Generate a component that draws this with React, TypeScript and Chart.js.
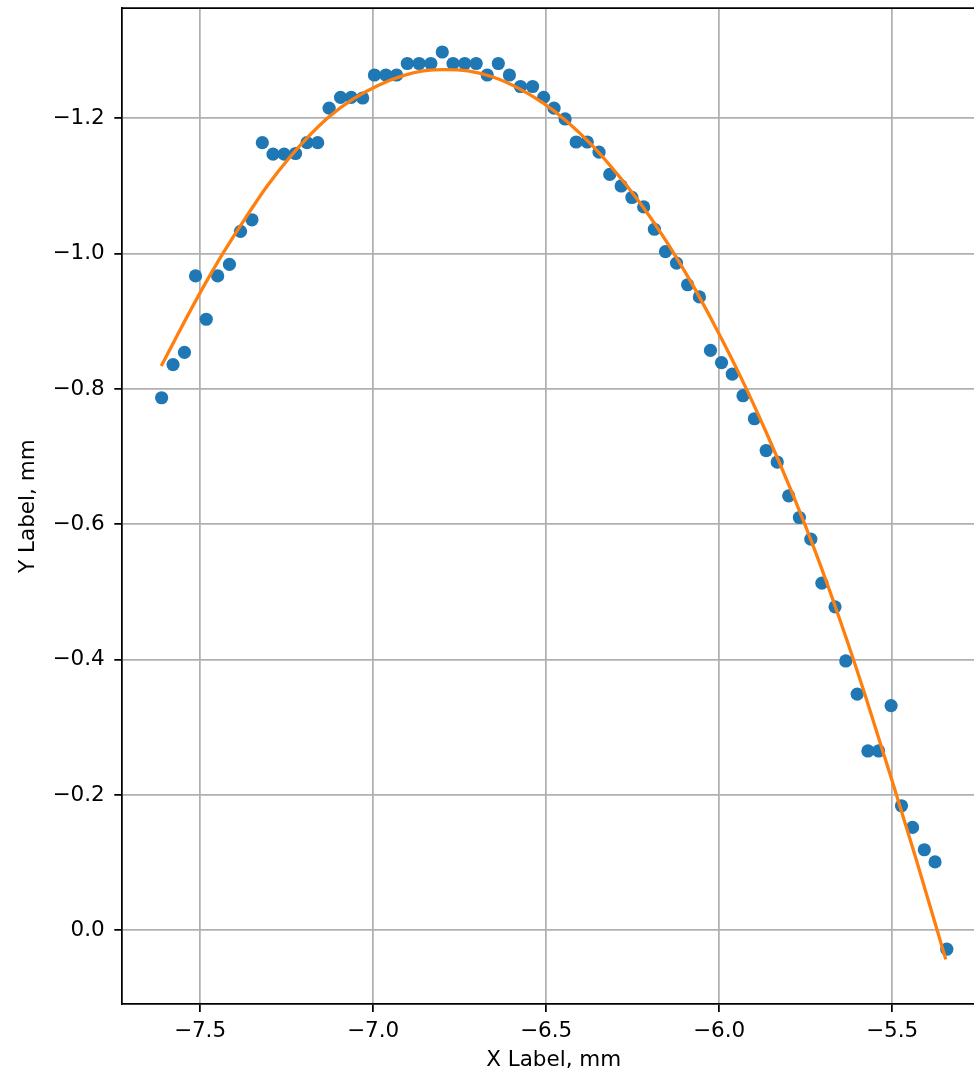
import React, { useEffect, useRef } from "react";
import { Chart, registerables } from "chart.js";

Chart.register(...registerables);

// Measured points (x, y in mm)
const xValues = [
  -7.611, -7.578, -7.545, -7.513, -7.482, -7.449, -7.415, -7.383, -7.35, -7.32,
  -7.289, -7.257, -7.224, -7.191, -7.16, -7.127, -7.094, -7.063, -7.03, -6.996,
  -6.963, -6.932, -6.901, -6.867, -6.833, -6.8, -6.769, -6.735, -6.702, -6.67,
  -6.638, -6.606, -6.574, -6.539, -6.507, -6.477, -6.445, -6.413, -6.381, -6.347,
  -6.316, -6.283, -6.252, -6.218, -6.187, -6.155, -6.123, -6.091, -6.057, -6.025,
  -5.993, -5.962, -5.931, -5.898, -5.864, -5.832, -5.799, -5.768, -5.735, -5.703,
  -5.665, -5.634, -5.601, -5.57, -5.539, -5.503, -5.473, -5.441, -5.407, -5.376,
  -5.342,
];
const yValues = [
  -0.787, -0.836, -0.854, -0.967, -0.903, -0.967, -0.984, -1.033, -1.05, -1.164,
  -1.147, -1.147, -1.148, -1.164, -1.164, -1.215, -1.231, -1.231, -1.23, -1.264,
  -1.264, -1.264, -1.281, -1.281, -1.281, -1.298, -1.281, -1.281, -1.281, -1.264,
  -1.281, -1.264, -1.247, -1.247, -1.231, -1.215, -1.199, -1.165, -1.165, -1.15,
  -1.117, -1.1, -1.083, -1.069, -1.036, -1.003, -0.986, -0.954, -0.936, -0.857,
  -0.839, -0.822, -0.79, -0.756, -0.709, -0.692, -0.642, -0.61, -0.578, -0.513,
  -0.478, -0.398, -0.349, -0.265, -0.265, -0.332, -0.184, -0.152, -0.119, -0.101,
  0.028,
];

// Fitted curve
const fitX = [
  -7.612, -7.559, -7.5, -7.433, -7.367, -7.306, -7.243, -7.185, -7.128, -7.056,
  -6.984, -6.913, -6.855, -6.792, -6.726, -6.654, -6.582, -6.51, -6.439, -6.367,
  -6.295, -6.223, -6.151, -6.079, -6.008, -5.936, -5.864, -5.792, -5.72, -5.649,
  -5.577, -5.505, -5.433, -5.345,
];
const fitY = [
  -0.834, -0.886, -0.942, -1.001, -1.054, -1.1, -1.141, -1.174, -1.202, -1.229,
  -1.249, -1.263, -1.27, -1.272, -1.27, -1.261, -1.245, -1.223, -1.195, -1.16,
  -1.118, -1.071, -1.017, -0.956, -0.889, -0.816, -0.736, -0.65, -0.557, -0.456,
  -0.346, -0.229, -0.109, 0.043,
];

const xTicks = [-7.5, -7.0, -6.5, -6.0, -5.5];
const yTicks = [-1.2, -1.0, -0.8, -0.6, -0.4, -0.2, 0.0];
const xLabel = "X Label, mm";
const yLabel = "Y Label, mm";

const fmt = (v: number) => {
  const s = Math.abs(v).toFixed(1);
  return v < -1e-9 ? "\u2212" + s : s;
};

const topSpine = {
  id: "topSpine",
  afterDatasetsDraw(chart: any) {
    const { ctx, chartArea } = chart;
    ctx.save();
    ctx.strokeStyle = "#000";
    ctx.lineWidth = 1.75;
    ctx.beginPath();
    ctx.moveTo(chartArea.left, chartArea.top);
    ctx.lineTo(chartArea.right + 2, chartArea.top);
    ctx.stroke();
    ctx.restore();
  },
};

const zeroPad = (s: any) => {
  s.paddingTop = 0;
  s.paddingBottom = 0;
  s.paddingLeft = 0;
  s.paddingRight = 0;
};

export default function App() {
  const ref = useRef<HTMLCanvasElement | null>(null);

  useEffect(() => {
    if (!ref.current) return;
    Chart.defaults.font.family = "'DejaVu Sans'";
    const FONT = 21.5;
    const gridOpts = {
      color: "#b0b0b0",
      lineWidth: 1.75,
      tickColor: "#000",
      tickLength: 7.7,
      tickWidth: 1.75,
    };
    const chart = new Chart(ref.current, {
      type: "scatter",
      data: {
        datasets: [
          {
            label: "fit",
            data: fitX.map((x, i) => ({ x, y: fitY[i] })),
            showLine: true,
            borderColor: "#ff7f0e",
            backgroundColor: "#ff7f0e",
            borderWidth: 3.3,
            pointRadius: 0,
            pointHoverRadius: 0,
            cubicInterpolationMode: "monotone",
            fill: false,
          },
          {
            label: "data",
            data: xValues.map((x, i) => ({ x, y: yValues[i] })),
            backgroundColor: "#1f77b4",
            borderColor: "#1f77b4",
            borderWidth: 0,
            pointRadius: 6.6,
            pointHoverRadius: 6.6,
          },
        ],
      },
      options: {
        responsive: true,
        maintainAspectRatio: false,
        animation: false,
        devicePixelRatio: 1,
        events: [],
        layout: { padding: { top: 8, right: 1.5, left: 0, bottom: 0 } },
        plugins: {
          legend: { display: false },
          tooltip: { enabled: false },
        },
        scales: {
          x: {
            type: "linear",
            min: -7.7255,
            max: -5.2305,
            afterBuildTicks: (s: any) => {
              s.ticks = xTicks.map((v) => ({ value: v }));
            },
            afterFit: (s: any) => {
              s.height = 70.7;
              zeroPad(s);
            },
            grid: gridOpts,
            border: { color: "#000", width: 1.75 },
            ticks: {
              callback: (v: any) => fmt(Number(v)),
              color: "#000",
              font: { size: FONT },
              padding: 6.4,
              maxRotation: 0,
              autoSkip: false,
            },
            title: {
              display: true,
              text: xLabel,
              color: "#000",
              font: { size: FONT },
              padding: { top: 0, bottom: 1.3 },
            },
          },
          y: {
            type: "linear",
            reverse: true,
            min: -1.363,
            max: 0.1094,
            afterBuildTicks: (s: any) => {
              s.ticks = yTicks.map((v) => ({ value: v }));
            },
            afterFit: (s: any) => {
              s.width = 122;
              zeroPad(s);
            },
            grid: gridOpts,
            border: { color: "#000", width: 1.75 },
            ticks: {
              callback: (v: any) => fmt(Number(v)),
              color: "#000",
              font: { size: FONT },
              padding: 9.5,
              autoSkip: false,
            },
            title: {
              display: true,
              text: yLabel,
              color: "#000",
              font: { size: FONT },
              padding: { top: 15.4, bottom: 0 },
            },
          },
        },
      },
      plugins: [topSpine],
    } as any);
    return () => chart.destroy();
  }, []);

  return (
    <div
      style={{
        position: "absolute",
        left: 0,
        top: 0,
        width: 974,
        height: 1075,
        overflow: "hidden",
        background: "#fff",
      }}
    >
      <div style={{ position: "relative", width: 992, height: 1075 }}>
        <canvas ref={ref} />
      </div>
    </div>
  );
}
